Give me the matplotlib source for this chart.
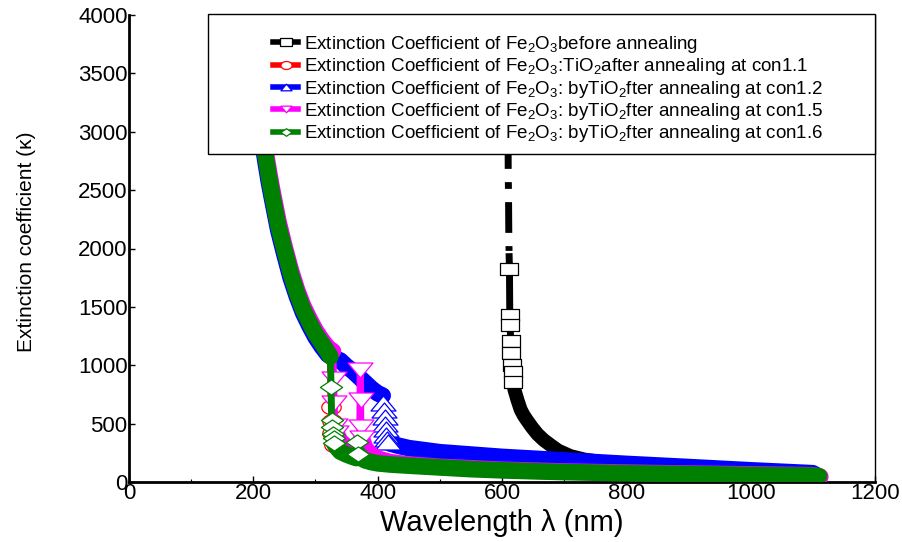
import numpy as np
import matplotlib
matplotlib.use('Agg')
import matplotlib.pyplot as plt
from matplotlib.path import Path
from matplotlib.lines import Line2D
from matplotlib.patches import Rectangle
from matplotlib.ticker import MultipleLocator

plt.rcParams['font.family'] = ['Liberation Sans', 'DejaVu Sans']
plt.rcParams['mathtext.fontset'] = 'custom'
plt.rcParams['mathtext.rm'] = 'Liberation Sans'
plt.rcParams['mathtext.it'] = 'Liberation Sans:italic'
plt.rcParams['mathtext.bf'] = 'Liberation Sans:bold'

# ---------------- data ----------------
# black: Fe2O3 before annealing
black_top_x = [609, 610, 610.5, 611, 611.5, 612]
black_top_y = [4400, 2630, 2460, 2080, 1930, 1824]
black_jump_x = [611.5, 612, 612.5, 613, 614, 615, 616, 617, 618]
black_jump_y = [1930, 1824, 1430, 1345, 1208, 1105, 1000, 940, 860]
black_curve_x = [618, 620, 625, 630, 635, 640, 648, 657, 667, 677, 690, 710, 733, 760, 780,
                 800, 850, 900, 950, 1000, 1050, 1100]
black_curve_y = [860, 790, 700, 620, 570, 530, 470, 410, 360, 320, 270, 222, 192, 172, 160,
                 152, 135, 120, 110, 100, 90, 80]

# red: con1.1
red_curve1_x = [190, 200, 210, 220, 230, 240, 250, 260, 270, 280, 290, 300, 310, 320, 324]
red_curve1_y = [4280, 3580, 3130, 2760, 2450, 2180, 1970, 1770, 1600, 1460, 1350, 1250, 1170, 1095, 1070]
red_jump_x = [324, 325, 326, 327, 329]
red_jump_y = [1070, 640, 520, 420, 320]
red_curve2_x = [329, 340, 350, 360, 370, 380, 400, 450, 500, 600, 700, 800, 900, 1000, 1100, 1108]
red_curve2_y = [320, 270, 250, 235, 220, 200, 175, 150, 130, 105, 90, 80, 70, 62, 55, 48]

# blue: con1.2
blue_curve1_x = [190, 195, 200, 205, 210, 215, 220, 225, 230, 240, 250, 260, 270, 280, 290, 300,
                 310, 320, 330, 340, 350, 360, 370, 380, 390, 400, 408]
blue_curve1_y = [4250, 3850, 3550, 3300, 3100, 2900, 2730, 2570, 2430, 2160, 1950, 1750, 1590, 1450,
                 1340, 1240, 1160, 1090, 1060, 1040, 990, 950, 900, 850, 800, 760, 740]
blue_jump_x = [408, 409, 410, 411, 412, 413, 414, 415, 417]
blue_jump_y = [740, 680, 620, 560, 500, 450, 400, 370, 340]
blue_curve2_x = [417, 420, 430, 450, 500, 550, 600, 700, 800, 900, 1000, 1100, 1105]
blue_curve2_y = [340, 330, 315, 290, 255, 235, 215, 185, 155, 128, 100, 75, 60]

# magenta: con1.5
mag_curve1_x = [190, 195, 200, 205, 210, 215, 220, 225, 230, 240, 250, 260, 270, 280, 290, 300,
                310, 320, 328]
mag_curve1_y = [4350, 3950, 3650, 3400, 3200, 3000, 2820, 2660, 2510, 2240, 2020, 1820, 1650, 1510,
                1400, 1300, 1220, 1150, 1120]
mag_jump1_x = [328, 329, 330, 331, 333]
mag_jump1_y = [1120, 880, 680, 480, 420]
mag_curve2_x = [333, 340, 350, 360, 371]
mag_curve2_y = [420, 350, 300, 280, 270]
mag_jump2_x = [371, 372, 372.5, 373, 374]
mag_jump2_y = [270, 960, 700, 470, 380]
mag_curve3_x = [374, 380, 390, 400, 420, 450, 500, 600, 700, 800, 900, 1000, 1100, 1112]
mag_curve3_y = [380, 290, 230, 200, 170, 150, 130, 105, 90, 80, 72, 65, 58, 45]

# green: con1.6
green_curve1_x = [190, 195, 200, 205, 210, 215, 220, 225, 230, 240, 250, 260, 270, 280, 290, 300,
                  310, 320, 324]
green_curve1_y = [4300, 3900, 3600, 3350, 3150, 2950, 2780, 2620, 2470, 2200, 1990, 1790, 1620,
                  1480, 1370, 1270, 1190, 1110, 1075]
green_jump1_x = [324, 325, 326, 327, 328, 329, 330]
green_jump1_y = [1075, 814, 531, 471, 414, 375, 330]
green_curve2_x = [330, 335, 340, 350, 360, 366]
green_curve2_y = [330, 290, 260, 235, 215, 205]
green_jump2_x = [366, 367, 369]
green_jump2_y = [205, 343, 240]
green_curve3_x = [369, 375, 380, 390, 400, 420, 450, 500, 550, 600, 650, 700, 800, 900, 1000, 1100, 1110]
green_curve3_y = [240, 200, 185, 170, 160, 150, 140, 125, 110, 100, 92, 85, 75, 68, 60, 55, 50]

labels = [
    r'Extinction Coefficient of Fe$_2$O$_3$before annealing',
    r'Extinction Coefficient of Fe$_2$O$_3$:TiO$_2$after annealing at con1.1',
    r'Extinction Coefficient of Fe$_2$O$_3$: byTiO$_2$fter annealing at con1.2',
    r'Extinction Coefficient of Fe$_2$O$_3$: byTiO$_2$fter annealing at con1.5',
    r'Extinction Coefficient of Fe$_2$O$_3$: byTiO$_2$fter annealing at con1.6',
]
colors = ['black', '#ff0000', '#0000ff', '#ff00ff', '#008000']

# ---------------- marker shapes (wide, as in the picture) ----------------
def mk(verts):
    return Path(verts + [verts[0]], closed=True)

sq = mk([(-1, -0.7), (1, -0.7), (1, 0.7), (-1, 0.7)])
t = np.linspace(0, 2 * np.pi, 40, endpoint=False)
circ = mk([(float(np.cos(a)), float(0.72 * np.sin(a))) for a in t])
tri_up = mk([(-1, -0.6), (1, -0.6), (0, 0.6)])
tri_dn = mk([(-1, 0.6), (1, 0.6), (0, -0.6)])
dia = mk([(-1, 0), (0, 0.68), (1, 0), (0, -0.68)])

fig = plt.figure(figsize=(9.03, 5.42), dpi=100)
ax = fig.add_axes([129 / 903, 1 - 482 / 542, 746 / 903, 467 / 542])


def draw(curves, jumps, color, marker, ms, band, z, edge=None):
    for cx, cy in curves:
        ax.plot(cx, cy, color=color, lw=band, solid_capstyle='round',
                solid_joinstyle='round', zorder=z)
    for jx, jy in jumps:
        ax.plot(jx, jy, color=color, lw=5, marker=marker, ms=ms, mfc='white',
                mec=color if edge is None else edge, mew=0.9,
                markevery=slice(1, None), zorder=z + 0.05)


# the upper part of the black drop shows white boxes without outline
draw([], [(black_top_x, black_top_y)], colors[0], sq, 12.5, 10, 1.9, edge='white')
draw([(black_curve_x, black_curve_y)], [(black_jump_x, black_jump_y)],
     colors[0], sq, 12.5, 10, 2.0)
draw([(red_curve1_x, red_curve1_y), (red_curve2_x, red_curve2_y)],
     [(red_jump_x, red_jump_y)], colors[1], circ, 14, 11, 2.2)
draw([(blue_curve1_x, blue_curve1_y), (blue_curve2_x, blue_curve2_y)],
     [(blue_jump_x, blue_jump_y)], colors[2], tri_up, 18, 12, 2.4)
draw([(mag_curve1_x, mag_curve1_y), (mag_curve2_x, mag_curve2_y), (mag_curve3_x, mag_curve3_y)],
     [(mag_jump1_x, mag_jump1_y), (mag_jump2_x, mag_jump2_y)], colors[3], tri_dn, 18, 12, 2.6)
draw([(green_curve1_x, green_curve1_y), (green_curve2_x, green_curve2_y),
      (green_curve3_x, green_curve3_y)],
     [(green_jump1_x, green_jump1_y), (green_jump2_x, green_jump2_y)], colors[4], dia, 16, 12, 2.8)

ax.set_xlim(0, 1200)
ax.set_ylim(0, 4000)
ax.xaxis.set_major_locator(MultipleLocator(200))
ax.xaxis.set_minor_locator(MultipleLocator(100))
ax.yaxis.set_major_locator(MultipleLocator(500))
ax.tick_params(which='major', direction='in', length=4, width=1, labelsize=16, pad=1)
ax.tick_params(which='minor', direction='in', length=2.5, width=0.8)
ax.spines['top'].set_visible(False)
ax.spines['left'].set_linewidth(2)
ax.spines['bottom'].set_linewidth(2)
ax.spines['right'].set_linewidth(1)

ax.set_xlabel('Wavelength λ (nm)', fontsize=21, va='center')
ax.xaxis.set_label_coords(0.5, (482 - 523) / 467)
ax.set_ylabel('Extinction coefficient (κ)', fontsize=15, va='center')
ax.yaxis.set_label_coords((27 - 129) / 746, (482 - 242) / 467)

# legend frame
rect = Rectangle((208 / 903, 1 - 154 / 542), (875 - 208) / 903, (154 - 14) / 542,
                 transform=fig.transFigure, facecolor='white', edgecolor='black',
                 lw=1, zorder=4, clip_on=False)
ax.add_patch(rect)

markers = [sq, circ, tri_up, tri_dn, dia]
handles = [Line2D([], [], color=c, lw=4, marker=m, ms=8, mfc='white', mec=c, mew=0.9)
           for c, m in zip(colors, markers)]
leg = ax.legend(handles, labels, loc='upper left', bbox_to_anchor=(273 / 903, 1 - 34 / 542),
                bbox_transform=fig.transFigure, frameon=False, fontsize=13.5,
                handlelength=1.35, handletextpad=0.3, labelspacing=0.07, borderpad=0,
                borderaxespad=0)
leg.set_zorder(5)

fig.savefig('out.png', dpi=100)
